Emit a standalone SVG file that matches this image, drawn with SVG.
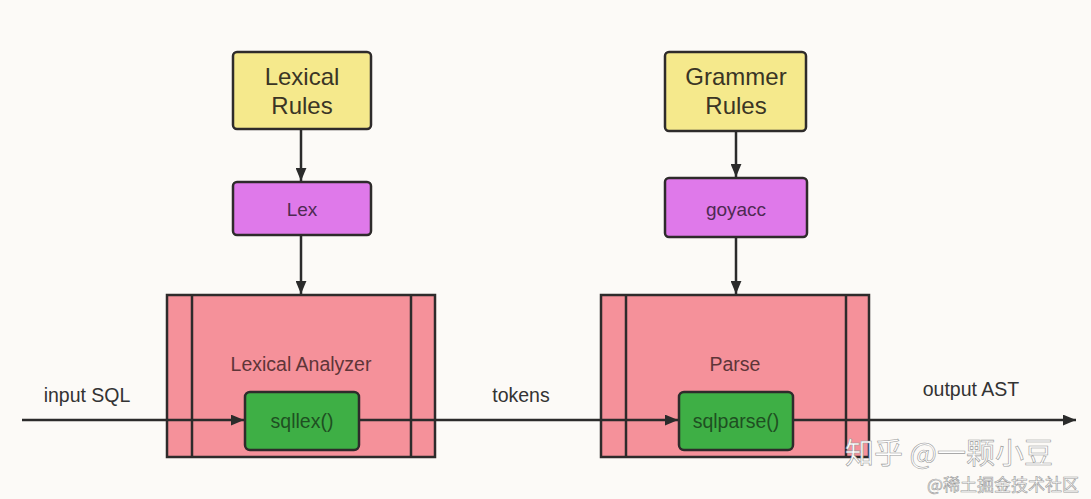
<svg xmlns="http://www.w3.org/2000/svg" width="1091" height="499" viewBox="0 0 1091 499">
<defs>
<marker id="ah" viewBox="0 0 12 10" refX="12" refY="5" markerWidth="13" markerHeight="11" markerUnits="userSpaceOnUse" orient="auto">
<path d="M0,0 L12,5 L0,10 z" fill="#2b2b2b"/>
</marker>
<style>
.box{stroke:#2e2b2b;stroke-width:2.5}
.yellow{fill:#f5e98c}
.purple{fill:#df79ea}
.red{fill:#f5919a}
.green{fill:#3eaf45}
.t{font-family:"Liberation Sans",Arial,sans-serif;text-anchor:middle}
.conn{stroke:#2b2b2b;stroke-width:2.5;fill:none;marker-end:url(#ah)}
.lbl{font-family:"Liberation Sans",Arial,sans-serif;font-size:19.5px;fill:#333;text-anchor:middle}
.wm{font-family:"Noto Sans CJK SC","Liberation Sans",sans-serif;fill:#ffffff;stroke:#9a9a9a;stroke-width:0.6}
</style>
</defs>
<rect width="1091" height="499" fill="#fcfaf7"/>
<g id="lexical-analyzer">
<rect class="box red" x="167" y="295" width="268" height="162"/>
<line class="box" x1="192" y1="295" x2="192" y2="457"/>
<line class="box" x1="411" y1="295" x2="411" y2="457"/>
<text class="t" x="301" y="371" font-size="19.5" fill="#5e3538">Lexical Analyzer</text>
</g>
<g id="parse">
<rect class="box red" x="601" y="295" width="268" height="162"/>
<line class="box" x1="626" y1="295" x2="626" y2="457"/>
<line class="box" x1="846" y1="295" x2="846" y2="457"/>
<text class="t" x="735" y="371" font-size="19.5" fill="#5e3538">Parse</text>
</g>
<g id="connectors">
<line class="conn" x1="301" y1="130" x2="301" y2="181"/>
<line class="conn" x1="301" y1="236" x2="301" y2="294"/>
<line class="conn" x1="736" y1="132" x2="736" y2="177"/>
<line class="conn" x1="736" y1="238" x2="736" y2="294"/>
<line class="conn" x1="22" y1="420" x2="244" y2="420"/>
<line class="conn" x1="359" y1="420" x2="678" y2="420"/>
<line class="conn" x1="793" y1="420" x2="1076" y2="420"/>
</g>
<g id="lexical-rules">
<rect class="box yellow" x="233" y="52" width="138" height="77" rx="4"/>
<text class="t" x="302" y="85" font-size="24" fill="#3a3525">Lexical</text>
<text class="t" x="302" y="114" font-size="24" fill="#3a3525">Rules</text>
</g>
<g id="lex">
<rect class="box purple" x="233" y="182" width="138" height="53" rx="4"/>
<text class="t" x="302" y="216" font-size="19" fill="#4e2a52">Lex</text>
</g>
<g id="grammer-rules">
<rect class="box yellow" x="665" y="52" width="141" height="79" rx="4"/>
<text class="t" x="736" y="85" font-size="24" fill="#3a3525">Grammer</text>
<text class="t" x="736" y="114" font-size="24" fill="#3a3525">Rules</text>
</g>
<g id="goyacc">
<rect class="box purple" x="665" y="178" width="142" height="59" rx="4"/>
<text class="t" x="736" y="216" font-size="19" fill="#4e2a52">goyacc</text>
</g>
<g id="sqllex">
<rect class="box green" x="245" y="392" width="114" height="58" rx="5"/>
<text class="t" x="302" y="428" font-size="19.5" fill="#1f4f22">sqllex()</text>
</g>
<g id="sqlparse">
<rect class="box green" x="679" y="392" width="114" height="58" rx="5"/>
<text class="t" x="736" y="428" font-size="19.5" fill="#1f4f22">sqlparse()</text>
</g>
<g id="labels">
<text class="lbl" x="87" y="402">input SQL</text>
<text class="lbl" x="521" y="402">tokens</text>
<text class="lbl" x="971" y="396">output AST</text>
</g>
<g id="watermark">
<text class="wm" x="845" y="464" font-size="29">知乎 @一颗小豆</text>
<text class="wm" x="927" y="491" font-size="17" stroke-width="0.35">@稀土掘金技术社区</text>
</g>
</svg>
